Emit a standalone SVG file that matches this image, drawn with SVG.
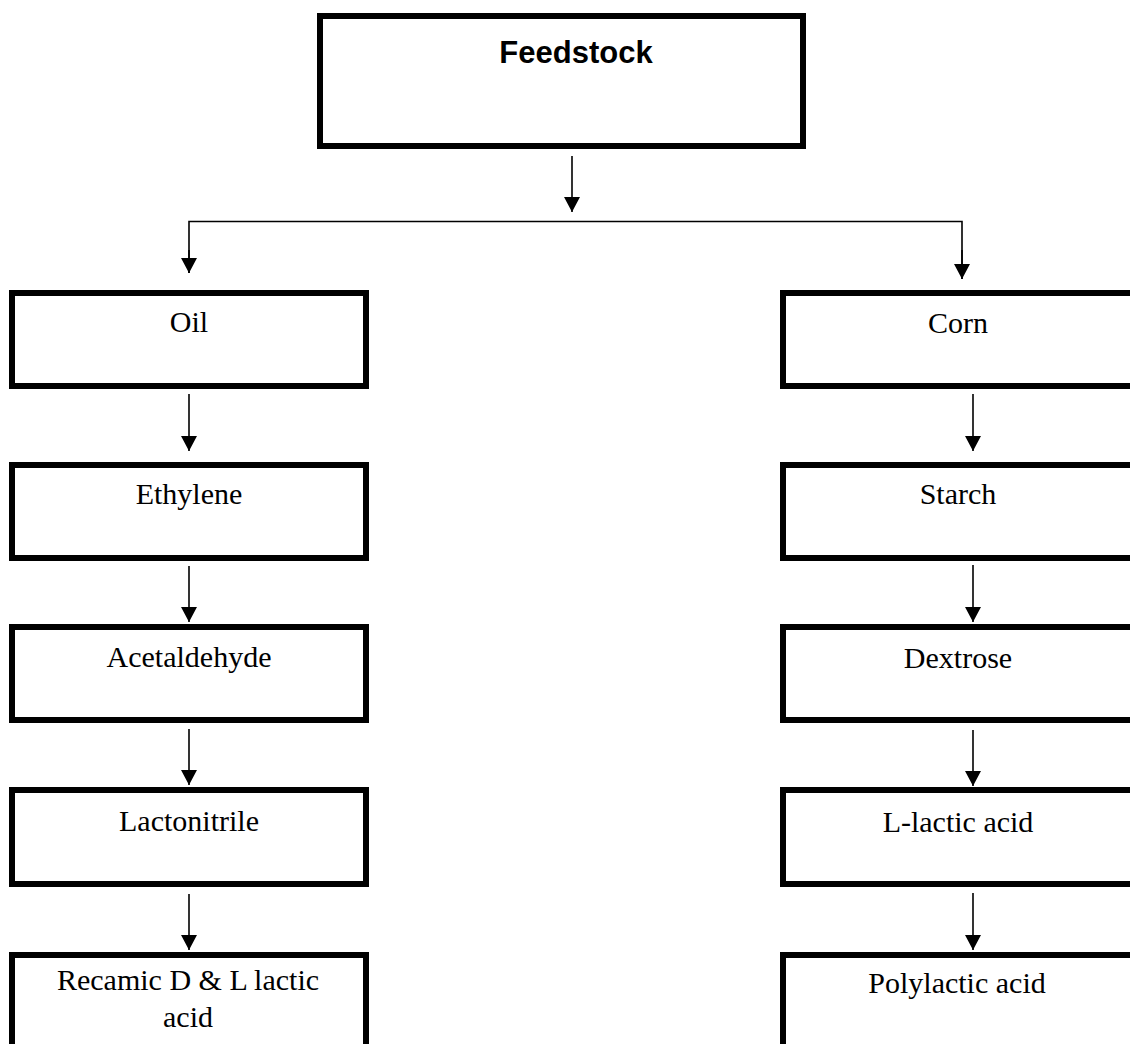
<svg xmlns="http://www.w3.org/2000/svg" width="1130" height="1044" viewBox="0 0 1130 1044">
<style>
.box{fill:#fff;stroke:#000;stroke-width:6}
.lbl{font-family:"Liberation Serif","Times New Roman",serif;font-size:30px;fill:#000;text-anchor:middle}
.title{font-family:"Liberation Sans",Arial,sans-serif;font-size:31px;font-weight:bold;fill:#000;text-anchor:middle}
.con{fill:none;stroke:#000;stroke-width:1.6}
</style>
<defs>
<marker id="ah" viewBox="0 0 15 16" refX="15" refY="8" markerWidth="15" markerHeight="16" markerUnits="userSpaceOnUse" orient="auto">
<path d="M0,0 L15,8 L0,16 z" fill="#000"/>
</marker>
</defs>
<rect width="1130" height="1044" fill="#fff"/>
<g id="connectors">
<line class="con" x1="572" y1="156" x2="572" y2="212" marker-end="url(#ah)"/>
<polyline class="con" points="189,273 189,221.5 962,221.5 962,279"/>
<line class="con" x1="189" y1="250" x2="189" y2="273" marker-end="url(#ah)"/>
<line class="con" x1="962" y1="250" x2="962" y2="279" marker-end="url(#ah)"/>
<line class="con" x1="189" y1="394" x2="189" y2="451" marker-end="url(#ah)"/>
<line class="con" x1="189" y1="566" x2="189" y2="622" marker-end="url(#ah)"/>
<line class="con" x1="189" y1="729" x2="189" y2="785" marker-end="url(#ah)"/>
<line class="con" x1="189" y1="894" x2="189" y2="950" marker-end="url(#ah)"/>
<line class="con" x1="973" y1="394" x2="973" y2="451" marker-end="url(#ah)"/>
<line class="con" x1="973" y1="565" x2="973" y2="622" marker-end="url(#ah)"/>
<line class="con" x1="973" y1="730" x2="973" y2="786" marker-end="url(#ah)"/>
<line class="con" x1="973" y1="893" x2="973" y2="950" marker-end="url(#ah)"/>
</g>
<g id="feedstock">
<rect class="box" x="320" y="16" width="483" height="130"/>
<text class="title" x="576" y="63">Feedstock</text>
</g>
<g id="oil">
<rect class="box" x="12" y="293" width="354" height="93"/>
<text class="lbl" x="189" y="332">Oil</text>
</g>
<g id="ethylene">
<rect class="box" x="12" y="465" width="354" height="93"/>
<text class="lbl" x="189" y="504">Ethylene</text>
</g>
<g id="acetaldehyde">
<rect class="box" x="12" y="627" width="354" height="93"/>
<text class="lbl" x="189" y="667">Acetaldehyde</text>
</g>
<g id="lactonitrile">
<rect class="box" x="12" y="790" width="354" height="94"/>
<text class="lbl" x="189" y="831">Lactonitrile</text>
</g>
<g id="recamic">
<rect class="box" x="12" y="955" width="354" height="120"/>
<text class="lbl" x="188" y="990">Recamic D &amp; L lactic</text>
<text class="lbl" x="188" y="1027">acid</text>
</g>
<g id="corn">
<rect class="box" x="783" y="293" width="400" height="93"/>
<text class="lbl" x="958" y="333">Corn</text>
</g>
<g id="starch">
<rect class="box" x="783" y="465" width="400" height="93"/>
<text class="lbl" x="958" y="504">Starch</text>
</g>
<g id="dextrose">
<rect class="box" x="783" y="627" width="400" height="93"/>
<text class="lbl" x="958" y="668">Dextrose</text>
</g>
<g id="l-lactic">
<rect class="box" x="783" y="790" width="400" height="94"/>
<text class="lbl" x="958" y="832">L-lactic acid</text>
</g>
<g id="polylactic">
<rect class="box" x="783" y="955" width="400" height="120"/>
<text class="lbl" x="957" y="993">Polylactic acid</text>
</g>
</svg>
